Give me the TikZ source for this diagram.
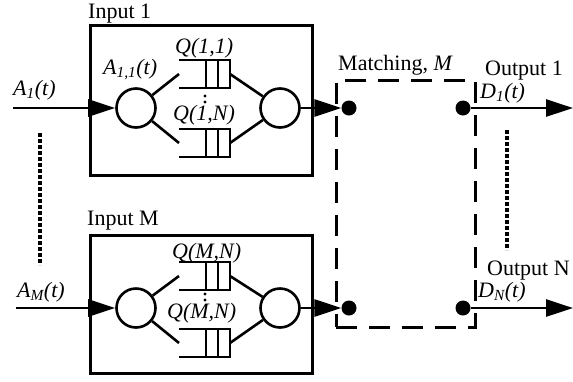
\documentclass[tikz,border=0pt]{standalone}
\usepackage{fontspec}
\setmainfont{Liberation Serif}
\usetikzlibrary{arrows.meta}

\tikzset{
  lbl/.style={font=\fontsize{22}{25}\selectfont, inner sep=0pt},
  inbox/.style={draw, line width=3pt, inner sep=0pt},
  dashbox/.style={draw, line width=3pt, dash pattern=on 21pt off 12pt, inner sep=0pt},
  server/.style={circle, draw, line width=2.6pt, minimum size=39pt, inner sep=0pt},
  qline/.style={line width=2.2pt},
  link/.style={line width=2.6pt},
  arr/.style={line width=2.8pt, -{Triangle[length=27pt,width=17pt]}},
  dot/.style={circle, fill, inner sep=0pt, minimum size=15pt},
  dotline/.style={line width=3.5pt, dash pattern=on 3.5pt off 2.5pt}
}

% queue: open on the left, #1 = middle of the opening
\newcommand{\queue}[1]{%
  \begin{scope}[shift={(#1)}]
    \draw[qline] (0,-14) -- (51,-14) -- (51,14) -- (0,14);
    \draw[qline] (27,-14) -- (27,14) (39,-14) -- (39,14);
  \end{scope}}

\begin{document}
\begin{tikzpicture}[x=1pt, y=-1pt]
  \useasboundingbox (0,0) rectangle (573,381);

  % Input 1
  \node[inbox, minimum width=222pt, minimum height=150pt] (box1) at (201,100) {};
  \node[lbl, anchor=base west] (in1) at (88,18) {Input 1};
  \node[server] (inA) at (136,108) {};
  \node[server] (outA) at (280,108) {};
  \coordinate (q11) at (179,74);
  \coordinate (q11r) at (230,74);
  \coordinate (q1n) at (179,143);
  \coordinate (q1nr) at (230,143);
  \queue{q11}
  \queue{q1n}
  \draw[link] (inA) -- (q11);
  \draw[link] (inA) -- (q1n);
  \draw[link] (q11r) -- (outA);
  \draw[link] (q1nr) -- (outA);
  \fill (205,96) circle (1.6pt) (205,102) circle (1.6pt);
  \node[lbl, anchor=base west] (l11) at (175,53) {\textit{Q(1,1)}};
  \node[lbl, anchor=base west] (l1n) at (173,120) {\textit{Q(1,N)}};
  \node[lbl, anchor=base west] (la11) at (103,74) {\textit{A\textsubscript{1,1}(t)}};

  % Input M
  \node[inbox, minimum width=222pt, minimum height=138pt] (boxM) at (201,304) {};
  \node[lbl, anchor=base west] (inM) at (87,225) {Input M};
  \node[server] (inB) at (136,308) {};
  \node[server] (outB) at (280,308) {};
  \coordinate (qm1) at (179,276);
  \coordinate (qm1r) at (230,276);
  \coordinate (qmn) at (179,343);
  \coordinate (qmnr) at (230,343);
  \queue{qm1}
  \queue{qmn}
  \draw[link] (inB) -- (qm1);
  \draw[link] (inB) -- (qmn);
  \draw[link] (qm1r) -- (outB);
  \draw[link] (qmnr) -- (outB);
  \fill (205,294) circle (1.6pt) (205,300) circle (1.6pt);
  \node[lbl, anchor=base west] (lm1) at (172,258) {\textit{Q(M,N)}};
  \node[lbl, anchor=base west] (lmn) at (167,318) {\textit{Q(M,N)}};

  % arrivals
  \coordinate (a1) at (13,108);
  \coordinate (aM) at (16,308);
  \draw[arr] (a1) -- (inA);
  \draw[arr] (aM) -- (inB);
  \node[lbl, anchor=base west] (la1) at (13,95) {\textit{A\textsubscript{1}(t)}};
  \node[lbl, anchor=base west] (laM) at (17,297) {\textit{A\textsubscript{M}(t)}};
  \coordinate (va) at (40,133);
  \coordinate (vb) at (40,265);
  \draw[dotline] (va) -- (vb);

  % Matching
  \node[dashbox, minimum width=139pt, minimum height=247pt] (match) at (405.5,203.5) {};
  \node[lbl, anchor=base west] (lmatch) at (338,70) {Matching, \textit{M}};
  \node[dot] (m1) at (349,108) {};
  \node[dot] (mM) at (349,308) {};
  \node[dot] (n1) at (463,108) {};
  \node[dot] (nN) at (463,308) {};
  \draw[arr] (outA) -- (m1);
  \draw[arr] (outB) -- (mM);

  % outputs
  \coordinate (d1) at (573,108);
  \coordinate (dN) at (573,308);
  \draw[arr] (n1) -- (d1);
  \draw[arr] (nN) -- (dN);
  \node[lbl, anchor=base west] (out1) at (485,75) {Output 1};
  \node[lbl, anchor=base west] (outN) at (487,275) {Output N};
  \node[lbl, anchor=base west] (ld1) at (480,98) {\textit{D\textsubscript{1}(t)}};
  \node[lbl, anchor=base west] (ldN) at (478,297) {\textit{D\textsubscript{N}(t)}};
  \coordinate (vc) at (507,130);
  \coordinate (vd) at (507,250);
  \draw[dotline] (vc) -- (vd);
\end{tikzpicture}
\end{document}
